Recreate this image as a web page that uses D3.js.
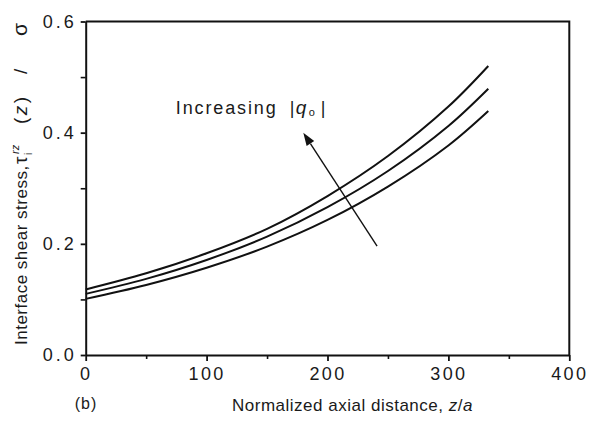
<!DOCTYPE html>
<html>
<head>
<meta charset="utf-8">
<script src="https://cdn.jsdelivr.net/npm/d3@7/dist/d3.min.js"></script>
<style>
  html, body { margin: 0; padding: 0; background: #fff; }
  svg { display: block; }
  text { font-family: "Liberation Sans", Arial, Helvetica, sans-serif; fill: #1a1a1a; }
</style>
</head>
<body>
<svg id="chart" width="589" height="422"></svg>
<script>
// Normalized axial distance z/a at which the curves are tabulated
const zValues = [0, 50, 100, 150, 200, 250, 300, 333];

// Interface shear stress tau_i^rz(z)/sigma, one series per |q0| (low -> high)
const shearLow  = [0.101, 0.126, 0.157, 0.195, 0.243, 0.303, 0.377, 0.439];
const shearMid  = [0.110, 0.137, 0.171, 0.213, 0.266, 0.331, 0.412, 0.479];
const shearHigh = [0.118, 0.147, 0.183, 0.227, 0.286, 0.358, 0.447, 0.520];
const seriesList = [shearLow, shearMid, shearHigh];

// Axis ticks
const xMajorTicks = [0, 100, 200, 300, 400];
const xMinorTicks = [50, 150, 250, 350];
const yMajorTicks = [0.0, 0.2, 0.4, 0.6];
const yMinorTicks = [0.1, 0.3, 0.5];

// Annotation: arrow from tail to head, in data units
const arrowTail = [241, 0.196];
const arrowHead = [180, 0.400];
const annotationAnchor = [74.5, 0.434];

const W = 589, H = 422;
const margin = { top: 21.5, right: 19.7, bottom: 67, left: 85.7 };
const iw = W - margin.left - margin.right;
const ih = H - margin.top - margin.bottom;

const svg = d3.select("#chart");
const g = svg.append("g").attr("transform", `translate(${margin.left},${margin.top})`);

const x = d3.scaleLinear().domain([0, 400]).range([0, iw]);
const y = d3.scaleLinear().domain([0, 0.6]).range([ih, 0]);

// Minor ticks (no labels)
g.append("g")
  .attr("transform", `translate(0,${ih})`)
  .call(d3.axisBottom(x).tickValues(xMinorTicks).tickSize(4).tickSizeOuter(0).tickFormat(""))
  .call(a => a.select(".domain").remove())
  .call(a => a.selectAll("line").attr("stroke", "#111").attr("stroke-width", 1.6));
g.append("g")
  .call(d3.axisLeft(y).tickValues(yMinorTicks).tickSize(5).tickSizeOuter(0).tickFormat(""))
  .call(a => a.select(".domain").remove())
  .call(a => a.selectAll("line").attr("stroke", "#111").attr("stroke-width", 1.6));

// Major x axis
const xAxis = g.append("g")
  .attr("transform", `translate(0,${ih})`)
  .call(d3.axisBottom(x).tickValues(xMajorTicks).tickSize(6).tickSizeOuter(0).tickPadding(6).tickFormat(d3.format("d")));
xAxis.select(".domain").attr("stroke", "#111").attr("stroke-width", 2);
xAxis.selectAll("line").attr("stroke", "#111").attr("stroke-width", 1.8);
xAxis.selectAll("text")
  .style("font-size", "18px").style("letter-spacing", "2.4px")
  .attr("fill", "#1a1a1a")
  .attr("font-family", "Liberation Sans, Arial, sans-serif");

// Major y axis
const yAxis = g.append("g")
  .call(d3.axisLeft(y).tickValues(yMajorTicks).tickSize(5).tickSizeOuter(0).tickPadding(4).tickFormat(d3.format(".1f")));
yAxis.select(".domain").attr("stroke", "#111").attr("stroke-width", 2);
yAxis.selectAll("line").attr("stroke", "#111").attr("stroke-width", 1.8);
yAxis.selectAll("text")
  .style("font-size", "18px").style("letter-spacing", "3px")
  .attr("fill", "#1a1a1a")
  .attr("font-family", "Liberation Sans, Arial, sans-serif");

// Top and right frame
g.append("path")
  .attr("d", `M0,0H${iw}V${ih}`)
  .attr("fill", "none").attr("stroke", "#111").attr("stroke-width", 2);

// Curves
const line = d3.line()
  .x((d, i) => x(zValues[i]))
  .y(d => y(d))
  .curve(d3.curveCatmullRom.alpha(0.5));

g.selectAll(".curve")
  .data(seriesList)
  .join("path")
  .attr("class", "curve")
  .attr("d", line)
  .attr("fill", "none")
  .attr("stroke", "#111")
  .attr("stroke-width", 2);

// Arrow
const tx = x(arrowTail[0]), ty = y(arrowTail[1]);
const hx = x(arrowHead[0]), hy = y(arrowHead[1]);
const ang = Math.atan2(hy - ty, hx - tx);
const headLen = 13, headHalf = 4.5;
const bx = hx - headLen * Math.cos(ang), by = hy - headLen * Math.sin(ang);
g.append("line")
  .attr("x1", tx).attr("y1", ty).attr("x2", bx).attr("y2", by)
  .attr("stroke", "#111").attr("stroke-width", 1.4);
g.append("path")
  .attr("d", `M${hx},${hy}L${bx + headHalf * Math.sin(ang)},${by - headHalf * Math.cos(ang)}L${bx - headHalf * Math.sin(ang)},${by + headHalf * Math.cos(ang)}Z`)
  .attr("fill", "#111");

// Annotation text
const ax0 = x(annotationAnchor[0]), ay0 = y(annotationAnchor[1]);
const ann = g.append("g").attr("transform", `translate(${ax0},${ay0})`);
ann.append("text")
  .attr("x", 0).attr("y", 0)
  .attr("textLength", 100).attr("lengthAdjust", "spacing")
  .style("font-size", "18px")
  .text("Increasing");
ann.append("text").attr("x", 114).attr("y", 0)
  .style("font-size", "18px").style("font-weight", "300").text("|");
ann.append("text").attr("x", 120).attr("y", 0)
  .style("font-size", "19px").style("font-style", "italic").text("q");
ann.append("text").attr("x", 133).attr("y", 2)
  .style("font-size", "11px").text("o");
ann.append("text").attr("x", 145).attr("y", 0)
  .style("font-size", "18px").style("font-weight", "300").text("|");

// X axis title
svg.append("text")
  .attr("x", margin.left + iw / 2 + 25)
  .attr("y", 411)
  .attr("text-anchor", "middle")
  .style("font-size", "17px")
  .style("letter-spacing", "0.5px")
  .call(t => {
    t.append("tspan").text("Normalized axial distance, ");
    t.append("tspan").style("font-style", "italic").text("z");
    t.append("tspan").text("/");
    t.append("tspan").style("font-style", "italic").text("a");
  });

// Y axis title, laid out along the rotated baseline
const yTitle = svg.append("g").attr("transform", "translate(27,345) rotate(-90)");
yTitle.append("text")
  .attr("x", 0).attr("y", 0)
  .style("font-size", "17px").style("letter-spacing", "0.5px")
  .text("Interface shear stress,");
yTitle.append("text")
  .attr("x", 181).attr("y", 0)
  .style("font-size", "19px")
  .text("τ");
yTitle.append("text")
  .attr("x", 190).attr("y", 5)
  .style("font-size", "10px")
  .text("i");
yTitle.append("text")
  .attr("x", 191).attr("y", -8)
  .style("font-size", "11px").style("font-style", "italic")
  .text("rz");
yTitle.append("text")
  .attr("x", 221).attr("y", 0)
  .style("font-size", "19px").style("letter-spacing", "2.5px")
  .call(t => {
    t.append("tspan").text("(");
    t.append("tspan").style("font-style", "italic").text("z");
    t.append("tspan").text(")");
  });
yTitle.append("text")
  .attr("x", 271).attr("y", 0)
  .style("font-size", "19px")
  .text("/");
yTitle.append("text")
  .attr("x", 309).attr("y", 0)
  .style("font-size", "21px")
  .text("σ");

// Panel label
svg.append("text")
  .attr("x", 86).attr("y", 409)
  .attr("text-anchor", "middle")
  .style("font-size", "16px")
  .style("letter-spacing", "1px")
  .text("(b)");
</script>
</body>
</html>
